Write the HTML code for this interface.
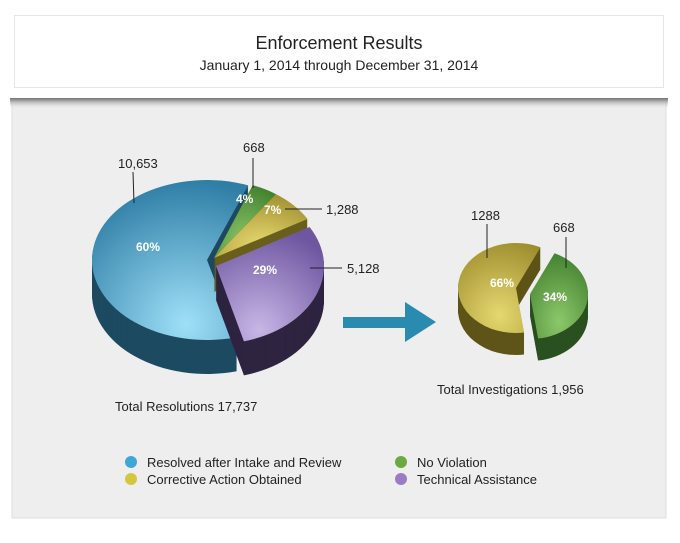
<!DOCTYPE html>
<html><head><meta charset="utf-8"><style>
body{margin:0;width:680px;height:538px;background:#fff;overflow:hidden;font-family:"Liberation Sans",sans-serif}
</style></head><body>
<svg id="s" width="680" height="538" xmlns="http://www.w3.org/2000/svg" font-family="Liberation Sans, sans-serif">
<defs>
<linearGradient id="sh" x1="0" y1="0" x2="0" y2="1"><stop offset="0" stop-color="#444" stop-opacity=".9"/><stop offset="1" stop-color="#eee" stop-opacity="0"/></linearGradient>
<radialGradient id="gb" cx=".6" cy=".9" r=".9"><stop offset="0" stop-color="#9fe0f8"/><stop offset="1" stop-color="#2f7ea6"/></radialGradient>
<radialGradient id="gp" cx=".4" cy=".9" r=".9"><stop offset="0" stop-color="#c8b6e6"/><stop offset="1" stop-color="#6e56a0"/></radialGradient>
<radialGradient id="gg" cx=".5" cy=".8" r=".9"><stop offset="0" stop-color="#8cc86a"/><stop offset="1" stop-color="#3d7a2a"/></radialGradient>
<radialGradient id="gy" cx=".5" cy=".8" r=".9"><stop offset="0" stop-color="#e6d870"/><stop offset="1" stop-color="#9a8a2a"/></radialGradient>
</defs>
<rect x="12" y="100" width="654" height="418" fill="#eeeeee" stroke="#ddd"/>
<rect x="10" y="97" width="658" height="12" fill="url(#sh)"/>
<rect x="8" y="8" width="662" height="90" fill="#fff"/>
<rect x="14.5" y="15.5" width="649" height="72" fill="#fff" stroke="#e6e6e6"/>
<text x="339" y="49" font-size="18" text-anchor="middle" fill="#222">Enforcement Results</text>
<text x="339" y="70" font-size="14" text-anchor="middle" fill="#222">January 1, 2014 through December 31, 2014</text>
<g id="pies"></g>
<path d="M343 317 L405 317 L405 302 L436 322 L405 342 L405 328 L343 328Z" fill="#2a8bb0"/>
<g font-size="13" fill="#222">
<text x="118" y="168">10,653</text><line x1="133" y1="172" x2="134" y2="203" stroke="#222"/>
<text x="243" y="152">668</text><line x1="253" y1="158" x2="253" y2="188" stroke="#222"/>
<text x="326" y="214">1,288</text><line x1="285" y1="209" x2="322" y2="209" stroke="#222"/>
<text x="347" y="273">5,128</text><line x1="310" y1="268" x2="342" y2="268" stroke="#222"/>
<text x="471" y="220">1288</text><line x1="487" y1="224" x2="487" y2="258" stroke="#222"/>
<text x="553" y="232">668</text><line x1="566" y1="237" x2="566" y2="268" stroke="#222"/>
<text x="115" y="411">Total Resolutions 17,737</text>
<text x="437" y="394">Total Investigations 1,956</text>
<text x="147" y="467">Resolved after Intake and Review</text>
<text x="147" y="484">Corrective Action Obtained</text>
<text x="417" y="467">No Violation</text>
<text x="417" y="484">Technical Assistance</text>
</g>
<circle cx="131" cy="462" r="6" fill="#3fa7d6"/><circle cx="131" cy="479" r="6" fill="#d4c640"/>
<circle cx="401" cy="462" r="6" fill="#6aaa44"/><circle cx="401" cy="479" r="6" fill="#9a7cc4"/>
<g id="lab" font-size="12" font-weight="bold" fill="#fff">
<text x="136" y="251">60%</text><text x="236" y="203">4%</text><text x="264" y="214">7%</text><text x="253" y="274">29%</text>
<text x="490" y="287">66%</text><text x="543" y="301">34%</text>
</g>
</svg>
<script>
function wedge(cx,cy,rx,ry,a0,a1){var r=Math.PI/180,x0=cx+rx*Math.cos(a0*r),y0=cy+ry*Math.sin(a0*r),x1=cx+rx*Math.cos(a1*r),y1=cy+ry*Math.sin(a1*r);
return 'M'+cx+' '+cy+'L'+x0+' '+y0+'A'+rx+' '+ry+' 0 '+((a1-a0)>180?1:0)+' 1 '+x1+' '+y1+'Z';}
var g=document.getElementById('pies'),h='';
function slice(cx,cy,rx,ry,d,a0,a1,side,top){for(var i=d;i>0;i-=1){h+='<path d="'+wedge(cx,cy+i,rx,ry,a0,a1)+'" fill="'+side+'"/>';}
h+='<path d="'+wedge(cx,cy,rx,ry,a0,a1)+'" fill="'+top+'"/>';}
slice(207,260,115,80,34,75,291,'#1d4a60','url(#gb)');
slice(214,258,108,78,34,291,305,'#2f5a22','url(#gg)');
slice(214,258,108,78,34,305,330,'#6a5e1c','url(#gy)');
slice(216,266,108,78,34,-30,75,'#2e2440','url(#gp)');
slice(516,288,58,45,22,82,295,'#5e5418','url(#gy)');
slice(530,294,58,45,22,-65,82,'#2a5020','url(#gg)');
g.innerHTML=h;
</script>
</body></html>
